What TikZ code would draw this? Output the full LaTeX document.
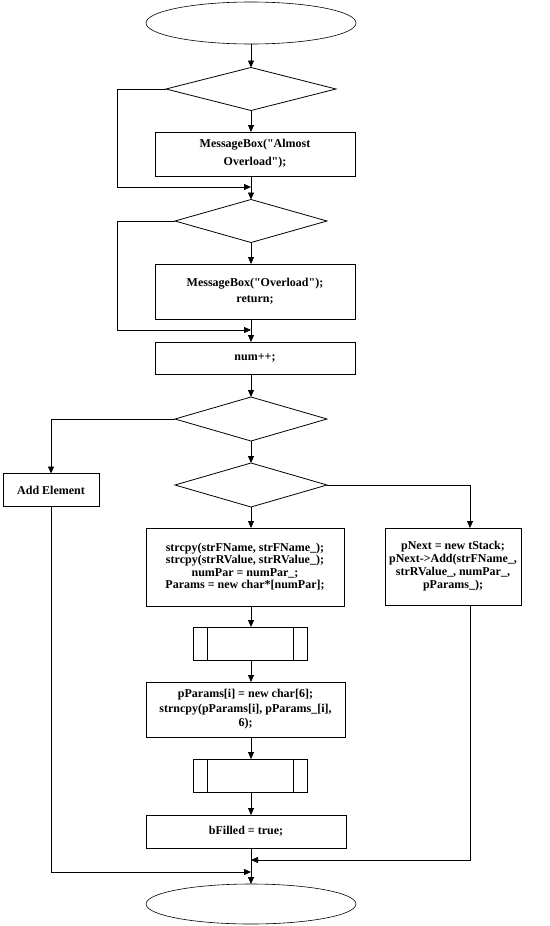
\documentclass[tikz,border=0pt]{standalone}
\usepackage{fontspec}
\setmainfont{Liberation Serif}
\usetikzlibrary{shapes.geometric,arrows.meta}
\begin{document}
\begin{tikzpicture}[x=1pt,y=-1pt,
  ln/.style={line width=0.8pt,black},
  arr/.style={ln,-{Triangle[length=7pt,width=6pt]}},
  box/.style={draw,ln,rectangle,inner sep=0pt,outer sep=0pt,align=center,
    font=\bfseries\fontsize{12}{13.5}\selectfont},
  dia/.style={draw,ln,diamond,inner sep=0pt,outer sep=0pt},
  oval/.style={draw,line width=0.6pt,ellipse,inner sep=0pt,outer sep=0pt},
  sub/.style={draw,ln,rectangle,inner sep=0pt,outer sep=0pt,minimum width=114pt,minimum height=33pt}
]
\useasboundingbox (0,0) rectangle (549,926);

\node[oval,minimum width=210pt,minimum height=42pt] (e1) at (251,23) {};
\node[dia,minimum width=170pt,minimum height=43pt] (d1) at (251,89) {};
\node[box,minimum width=200pt,minimum height=44pt,font=\bfseries\fontsize{12}{18}\selectfont] (b1) at (255,154) {MessageBox(\textquotedbl Almost\\Overload\textquotedbl);};
\node[dia,minimum width=152pt,minimum height=43pt] (d2) at (251,221) {};
\node[box,minimum width=200pt,minimum height=55pt,font=\bfseries\fontsize{12}{16}\selectfont] (b2) at (255,291.5) {MessageBox(\textquotedbl Overload\textquotedbl);\\return;};
\node[box,minimum width=200pt,minimum height=32pt] (b3) at (255,358) {num++;};
\node[dia,minimum width=152pt,minimum height=44pt] (d3) at (251,419) {};
\node[dia,minimum width=152pt,minimum height=44pt] (d4) at (251,485) {};
\node[box,minimum width=96pt,minimum height=33pt] (add) at (51,490) {Add Element};
\node[box,minimum width=198pt,minimum height=78pt,font=\bfseries\fontsize{12}{12.5}\selectfont] (b4) at (245,567) {strcpy(strFName, strFName\_);\\strcpy(strRValue, strRValue\_);\\numPar = numPar\_;\\Params = new char*[numPar];};
\node[box,minimum width=136pt,minimum height=77pt,font=\bfseries\fontsize{12}{13}\selectfont] (b5) at (453,566.5) {pNext = new tStack;\\pNext->Add(strFName\_,\\strRValue\_, numPar\_,\\pParams\_);};
\node[sub] (s1) at (250,643.5) {};
\node[box,minimum width=199pt,minimum height=55pt,font=\bfseries\fontsize{12}{14.5}\selectfont] (b6) at (245.5,709.5) {pParams[i] = new char[6];\\strncpy(pParams[i], pParams\_[i],\\6);};
\node[sub] (s2) at (250,775.5) {};
\node[box,minimum width=200pt,minimum height=33pt] (b7) at (246,831.5) {bFilled = true;};
\node[oval,minimum width=210pt,minimum height=40pt] (e2) at (251,904) {};

\foreach \s in {s1,s2}{
  \draw[ln] ([xshift=14pt]\s.north west) -- ([xshift=14pt]\s.south west);
  \draw[ln] ([xshift=-14pt]\s.north east) -- ([xshift=-14pt]\s.south east);
}

\coordinate (j1) at (251,187);
\coordinate (j2) at (251,330);
\coordinate (j3) at (251,860);
\coordinate (j4) at (251,872);

\draw[arr] (e1.south) -- (d1.north);
\draw[arr] (d1.south) -- (b1.north -| d1.south);
\draw[arr] (d1.west) -- ++(-49,0) |- (j1);
\draw[arr] (b1.south -| d1.south) -- (d2.north);
\draw[arr] (d2.south) -- (b2.north -| d2.south);
\draw[arr] (d2.west) -- ++(-58,0) |- (j2);
\draw[arr] (b2.south -| d2.south) -- (b3.north -| d2.south);
\draw[arr] (b3.south -| d3.south) -- (d3.north);
\draw[arr] (d3.west) -| (add.north);
\draw[arr] (d3.south) -- (d4.north);
\draw[arr] (d4.east) -| ([xshift=17pt]b5.north);
\draw[arr] (d4.south) -- (b4.north -| d4.south);
\draw[arr] (b4.south -| d4.south) -- (s1.north -| d4.south);
\draw[arr] (s1.south -| d4.south) -- (b6.north -| d4.south);
\draw[arr] (b6.south -| d4.south) -- (s2.north -| d4.south);
\draw[arr] (s2.south -| d4.south) -- (b7.north -| d4.south);
\draw[arr] (b7.south -| e2.north) -- (e2.north);
\draw[arr] ([xshift=17pt]b5.south) |- (j3);
\draw[arr] (add.south) |- (j4);
\end{tikzpicture}
\end{document}
